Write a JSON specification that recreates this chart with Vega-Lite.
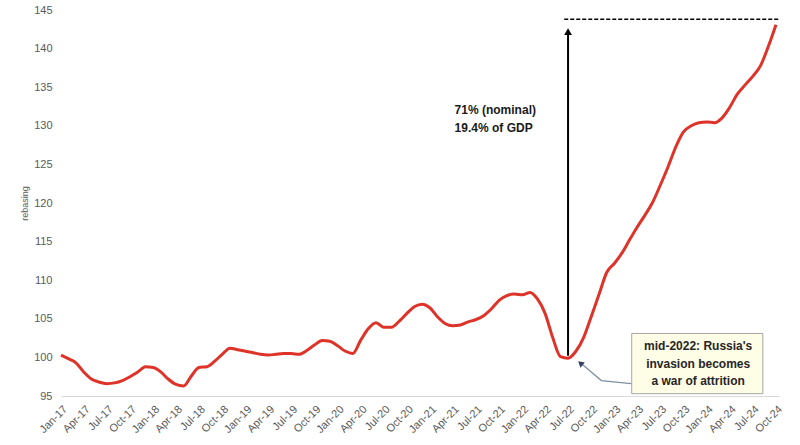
{
  "$schema": "https://vega.github.io/schema/vega-lite/v6.json",
  "width": 718,
  "height": 386,
  "autosize": {"type": "none"},
  "padding": {"left": 61, "top": 10, "right": 21, "bottom": 49},
  "background": "white",
  "config": {"view": {"stroke": null}, "font": "Liberation Sans"},
  "datasets": {
    "series": [
      {"date": "2017-01-01", "value": 100.3}, {"date": "2017-02-01", "value": 99.8}, {"date": "2017-03-01", "value": 99.3},
      {"date": "2017-04-01", "value": 98.1}, {"date": "2017-05-01", "value": 97.2}, {"date": "2017-06-01", "value": 96.8},
      {"date": "2017-07-01", "value": 96.6}, {"date": "2017-08-01", "value": 96.7}, {"date": "2017-09-01", "value": 97.0},
      {"date": "2017-10-01", "value": 97.5}, {"date": "2017-11-01", "value": 98.1}, {"date": "2017-12-01", "value": 98.8},
      {"date": "2018-01-01", "value": 98.7}, {"date": "2018-02-01", "value": 98.1}, {"date": "2018-03-01", "value": 97.2},
      {"date": "2018-04-01", "value": 96.5}, {"date": "2018-05-01", "value": 96.3}, {"date": "2018-06-01", "value": 97.6},
      {"date": "2018-07-01", "value": 98.7}, {"date": "2018-08-01", "value": 98.8}, {"date": "2018-09-01", "value": 99.5},
      {"date": "2018-10-01", "value": 100.4}, {"date": "2018-11-01", "value": 101.2}, {"date": "2018-12-01", "value": 101.0},
      {"date": "2019-01-01", "value": 100.8}, {"date": "2019-02-01", "value": 100.6}, {"date": "2019-03-01", "value": 100.4},
      {"date": "2019-04-01", "value": 100.3}, {"date": "2019-05-01", "value": 100.4}, {"date": "2019-06-01", "value": 100.5},
      {"date": "2019-07-01", "value": 100.5}, {"date": "2019-08-01", "value": 100.4}, {"date": "2019-09-01", "value": 100.9},
      {"date": "2019-10-01", "value": 101.6}, {"date": "2019-11-01", "value": 102.2}, {"date": "2019-12-01", "value": 102.1},
      {"date": "2020-01-01", "value": 101.5}, {"date": "2020-02-01", "value": 100.8}, {"date": "2020-03-01", "value": 100.5},
      {"date": "2020-04-01", "value": 102.2}, {"date": "2020-05-01", "value": 103.7}, {"date": "2020-06-01", "value": 104.5},
      {"date": "2020-07-01", "value": 103.9}, {"date": "2020-08-01", "value": 103.9}, {"date": "2020-09-01", "value": 104.7},
      {"date": "2020-10-01", "value": 105.7}, {"date": "2020-11-01", "value": 106.6}, {"date": "2020-12-01", "value": 106.9},
      {"date": "2021-01-01", "value": 106.4}, {"date": "2021-02-01", "value": 105.2}, {"date": "2021-03-01", "value": 104.4},
      {"date": "2021-04-01", "value": 104.1}, {"date": "2021-05-01", "value": 104.2}, {"date": "2021-06-01", "value": 104.6},
      {"date": "2021-07-01", "value": 104.9}, {"date": "2021-08-01", "value": 105.4}, {"date": "2021-09-01", "value": 106.3},
      {"date": "2021-10-01", "value": 107.4}, {"date": "2021-11-01", "value": 108.0}, {"date": "2021-12-01", "value": 108.2},
      {"date": "2022-01-01", "value": 108.1}, {"date": "2022-02-01", "value": 108.4}, {"date": "2022-03-01", "value": 107.6},
      {"date": "2022-04-01", "value": 105.7}, {"date": "2022-05-01", "value": 102.6}, {"date": "2022-06-01", "value": 100.1},
      {"date": "2022-07-01", "value": 99.9}, {"date": "2022-08-01", "value": 100.8}, {"date": "2022-09-01", "value": 102.6},
      {"date": "2022-10-01", "value": 105.3}, {"date": "2022-11-01", "value": 108.2}, {"date": "2022-12-01", "value": 111.0},
      {"date": "2023-01-01", "value": 112.2}, {"date": "2023-02-01", "value": 113.6}, {"date": "2023-03-01", "value": 115.2},
      {"date": "2023-04-01", "value": 116.9}, {"date": "2023-05-01", "value": 118.4}, {"date": "2023-06-01", "value": 120.1},
      {"date": "2023-07-01", "value": 122.3}, {"date": "2023-08-01", "value": 124.7}, {"date": "2023-09-01", "value": 127.3},
      {"date": "2023-10-01", "value": 129.2}, {"date": "2023-11-01", "value": 130.0}, {"date": "2023-12-01", "value": 130.4},
      {"date": "2024-01-01", "value": 130.5}, {"date": "2024-02-01", "value": 130.4}, {"date": "2024-03-01", "value": 131.0},
      {"date": "2024-04-01", "value": 132.4}, {"date": "2024-05-01", "value": 134.1}, {"date": "2024-06-01", "value": 135.3},
      {"date": "2024-07-01", "value": 136.4}, {"date": "2024-08-01", "value": 137.8}, {"date": "2024-09-01", "value": 140.3},
      {"date": "2024-10-01", "value": 143.1}
    ],
    "arrow": [{"date": "2022-07-01", "value": 100.2, "value2": 142.4}],
    "arrowtip": [{"date": "2022-07-01", "value": 142.2}],
    "dash": [{"date": "2022-06-16", "date2": "2024-10-13", "value": 143.8}],
    "note": [
      {"date": "2021-04-08", "value": 132.0, "label": "71% (nominal)"},
      {"date": "2021-04-08", "value": 129.7, "label": "19.4% of GDP"}
    ],
    "box": [{"date": "2023-03-10", "date2": "2024-08-10", "value": 103.1, "value2": 95.3}],
    "boxtext": [
      {"date": "2023-11-28", "value": 101.5, "label": "mid-2022: Russia's"},
      {"date": "2023-11-28", "value": 99.2, "label": "invasion becomes"},
      {"date": "2023-11-28", "value": 96.9, "label": "a war of attrition"}
    ],
    "pointer": [
      {"date": "2023-03-08", "value": 96.6, "ord": 1},
      {"date": "2022-11-10", "value": 97.0, "ord": 2},
      {"date": "2022-08-22", "value": 99.2, "ord": 3}
    ],
    "pointerhead": [{"date": "2022-08-19", "value": 99.25}]
  },
  "encoding": {
    "x": {
      "field": "date", "type": "temporal",
      "scale": {"type": "utc", "nice": false},
      "axis": {
        "title": null, "format": "%b-%y", "tickCount": {"interval": "month", "step": 3},
        "labelAngle": -45, "labelFontSize": 11, "labelColor": "#595959", "labelPadding": 7,
        "ticks": false, "grid": false, "domainColor": "#d9d9d9", "domainWidth": 1,
        "labelOverlap": false
      }
    },
    "y": {
      "field": "value", "type": "quantitative",
      "scale": {"domain": [95, 145], "nice": false, "zero": false},
      "axis": {
        "title": "rebasing", "values": [95, 100, 105, 110, 115, 120, 125, 130, 135, 140, 145],
        "labelFontSize": 11, "labelColor": "#595959", "labelPadding": 9, "labelOverlap": false,
        "ticks": false, "grid": false, "domain": false,
        "titleFontSize": 9, "titleColor": "#595959", "titleFontWeight": "normal", "titlePadding": 4
      }
    }
  },
  "layer": [
    {
      "data": {"name": "series"},
      "mark": {"type": "line", "color": "#dd3329", "strokeWidth": 3, "interpolate": "monotone"}
    },
    {
      "data": {"name": "dash"},
      "mark": {"type": "rule", "color": "black", "strokeWidth": 1.5, "strokeDash": [4, 2]},
      "encoding": {"x2": {"field": "date2"}}
    },
    {
      "data": {"name": "arrow"},
      "mark": {"type": "rule", "color": "black", "strokeWidth": 2},
      "encoding": {"y2": {"field": "value2"}}
    },
    {
      "data": {"name": "arrowtip"},
      "mark": {"type": "point", "shape": "triangle-up", "filled": true, "color": "black", "size": 60, "opacity": 1},
      "encoding": {}
    },
    {
      "data": {"name": "note"},
      "mark": {"type": "text", "align": "left", "baseline": "middle", "fontSize": 12, "fontWeight": "bold", "color": "#1a1a1a"},
      "encoding": {"text": {"field": "label"}}
    },
    {
      "data": {"name": "box"},
      "mark": {"type": "rect", "fill": "#fefde6", "stroke": "#a6a6a6", "strokeWidth": 1},
      "encoding": {"x2": {"field": "date2"}, "y2": {"field": "value2"}}
    },
    {
      "data": {"name": "boxtext"},
      "mark": {"type": "text", "align": "center", "baseline": "middle", "fontSize": 12, "fontWeight": "bold", "color": "#262626"},
      "encoding": {"text": {"field": "label"}}
    },
    {
      "data": {"name": "pointer"},
      "mark": {"type": "line", "color": "#7f8ea3", "strokeWidth": 1.2},
      "encoding": {"order": {"field": "ord"}}
    },
    {
      "data": {"name": "pointerhead"},
      "mark": {"type": "point", "shape": "triangle-up", "filled": true, "color": "#2f4060", "size": 45, "angle": 311, "opacity": 1},
      "encoding": {}
    }
  ]
}
